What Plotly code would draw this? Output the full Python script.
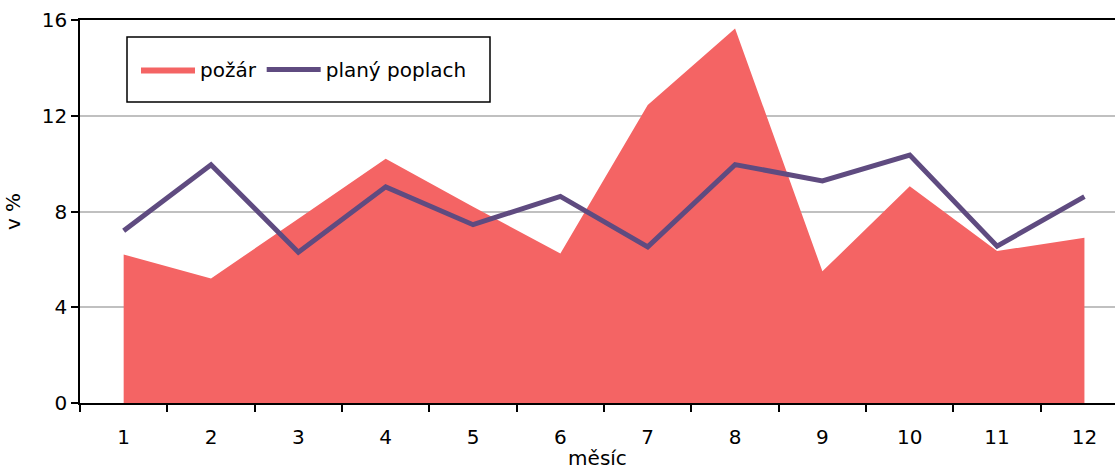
import plotly.graph_objects as go

months = list(range(1, 13))
month_labels = [str(m) for m in months]
pozar = [6.2, 5.2, 7.7, 10.2, 8.2, 6.25, 12.45, 15.65, 5.5, 9.05, 6.35, 6.9]
plany_poplach = [7.2, 9.95, 6.3, 9.03, 7.45, 8.63, 6.52, 9.96, 9.28, 10.36, 6.55, 8.62]
y_ticks = [0, 4, 8, 12, 16]

AREA = "#F46464"
LINE = "#5F4B80"
FONT = "DejaVu Sans"

fig = go.Figure()
fig.add_trace(go.Scatter(
    x=months, y=pozar, name="požár", mode="lines",
    line=dict(width=0, color=AREA), fill="tozeroy", fillcolor=AREA,
))
fig.add_trace(go.Scatter(
    x=months, y=plany_poplach, name="planý poplach", mode="lines",
    line=dict(width=5, color=LINE),
))

# legend frame (reference has generous padding around the entries)
fig.add_shape(type="rect", xref="paper", yref="paper",
              x0=(127 - 80) / 1035, x1=(490 - 80) / 1035,
              y0=(403 - 102) / 383, y1=(403 - 37) / 383,
              line=dict(color="black", width=1.5), fillcolor="white", layer="below")

fig.update_layout(
    width=1115, height=470,
    margin=dict(l=80, r=0, t=20, b=67),
    paper_bgcolor="white", plot_bgcolor="white",
    font=dict(family=FONT, size=20, color="black"),
    showlegend=True,
    legend=dict(
        x=(136 - 80) / 1035, y=(403 - 69.5) / 383, xanchor="left", yanchor="middle",
        orientation="h", borderwidth=0,
        bgcolor="rgba(0,0,0,0)", font=dict(size=20), itemwidth=54,
    ),
    xaxis=dict(
        range=[0.5, 12.35], tickvals=months, ticktext=month_labels,
        ticks="", showgrid=False, zeroline=False, automargin=False,
        showline=True, linecolor="black", linewidth=1.5, mirror=True,
        minor=dict(tick0=0.5, dtick=1, ticks="outside", ticklen=7,
                   tickcolor="black", tickwidth=1.5, showgrid=False),
        title=dict(text="měsíc", standoff=4, font=dict(size=20)),
        ticklabelstandoff=15,
    ),
    yaxis=dict(
        range=[0, 16], tickvals=y_ticks, ticks="outside", ticklen=7,
        tickcolor="black", tickwidth=1.5, automargin=False,
        showgrid=True, gridcolor="#C0C0C0", gridwidth=1.5,
        zeroline=False, showline=True, linecolor="black", linewidth=1.5,
        title=dict(text="v %", standoff=16, font=dict(size=20)),
    ),
)

fig.write_html("out.html", config={"displayModeBar": False},
               post_script="document.body.style.margin='0';")
